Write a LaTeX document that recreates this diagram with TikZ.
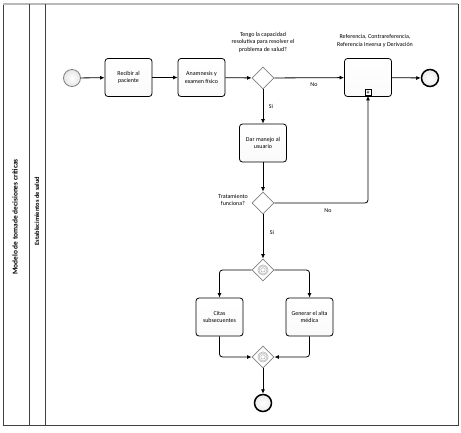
\documentclass[tikz,border=0pt]{standalone}
\usepackage{fontspec}
\setmainfont{Carlito}
\usetikzlibrary{shapes.geometric,arrows.meta}
\newcommand{\smallfont}{\fontsize{6}{7.6}\selectfont}
\tikzstyle{task}=[rectangle,draw,rounded corners=3pt,minimum width=47pt,minimum height=38pt,inner sep=1pt,align=center,font=\smallfont,top color=white,bottom color=gray!4]
\tikzstyle{gate}=[diamond,draw=gray,fill=white,minimum size=22pt,inner sep=0pt]
\tikzstyle{evgate}=[gate,path picture={\draw[gray!70,line width=0.4pt,shift={(path picture bounding box.center)}] (0,0) circle (5.2pt) (0,0) circle (4pt) (90:2.4pt) -- (162:2.4pt) -- (234:2.4pt) -- (306:2.4pt) -- (18:2.4pt) -- cycle;}]
\tikzstyle{startev}=[circle,draw=gray,minimum size=17pt,inner sep=0pt,inner color=white,outer color=gray!20]
\tikzstyle{endev}=[circle,draw,line width=1.5pt,minimum size=17pt,inner sep=0pt,inner color=white,outer color=gray!15]
\tikzstyle{lbl}=[font=\smallfont,align=center,inner sep=0pt]
\tikzstyle{flow}=[-{Latex[length=4.5pt,width=4pt]}]
\tikzstyle{hv}=[rounded corners=3pt,to path={-| (\tikztotarget)}]
\tikzstyle{vh}=[rounded corners=3pt,to path={|- (\tikztotarget)}]

\begin{document}
\begin{tikzpicture}[x=1pt,y=-1pt,line width=0.8pt]
			\useasboundingbox (0,0) rectangle (461,432);
			% % % % % % % % % % % % % % % % % % % % % % % % % % % % % 
			% pool and lane
			\draw[black!75] (3,4) rectangle (458,425);
			\draw[gray!55,line width=1.5pt] (3,4) -- (458,4);
			\draw[black!75] (29,4) -- (29,425);
			\draw[black!75] (45,4) -- (45,425);
			\node [rotate=90,font=\fontsize{7.4}{8}\selectfont\bfseries] (pool) at (15,217) {Modelo de tomade decisiones críticas};
			\node [rotate=90,font=\fontsize{6.4}{8}\selectfont\bfseries] (lane) at (37,211) {Establecimientos de salud};
			% % % % % % % % % % % % % % % % % % % % % % % % % % % % % 
			\node [startev] (s1) at (72,78) {};
			\node [task] (recibir) at (128.5,77.5) {Recibir al\\paciente};
			\node [task] (anam) at (201.5,77.5) {Anamnesis y\\examen físico};
			\node [gate] (g1) at (263,78) {};
			\node [lbl] (q1) at (263,42) {Tengo la capacidad\\resolutiva para resolver el\\problema de salud?};
			\node [task] (sub) at (368,77.5) {};
			\node [draw,fill=white,minimum size=6pt,inner sep=0pt,line width=0.6pt,font=\fontsize{6}{6}\selectfont\bfseries] (plus) at (368,92.5) {+};
			\node [lbl] (q2) at (375,41) {Referencia, Contrareferencia,\\Referencia Inversa y Derivación};
			\node [endev] (e1) at (430,78) {};
			%*********************
			\node [task] (dar) at (263,143) {Dar manejo al\\usuario};
			\node [gate] (g2) at (263,203) {};
			\node [lbl] (q3) at (233,200) {Tratamiento\\funciona?};
			\node [evgate] (g3) at (263,270) {};
			\node [task] (citas) at (219.5,317) {Citas\\subsecuentes};
			\node [task] (alta) at (309.5,317) {Generar el alta\\médica};
			\node [evgate] (g4) at (263,357) {};
			\node [endev] (e2) at (263,403) {};
			%*********************
			\node [lbl] (si1) at (271,106) {Si};
			\node [lbl] (no1) at (314,85) {No};
			\node [lbl] (no2) at (328,211) {No};
			\node [lbl] (si2) at (272,232) {Si};
			\path
			% % % % % % % % % % % % % % % % %
			(s1) edge [flow] (recibir)
			(recibir) edge [flow] (anam)
			(anam) edge [flow] (g1)
			(g1) edge [flow] (sub)
			(sub) edge [flow] (e1)
			(g1) edge [flow] (dar)
			(dar) edge [flow] (g2)
			(g2.east) edge [flow,hv] (plus.south)
			(g2) edge [flow] (g3)
			%**************
			(g3.west) edge [flow,hv] (citas.north)
			(g3.east) edge [flow,hv] (alta.north)
			(citas.south) edge [flow,vh] (g4.west)
			(alta.south) edge [flow,vh] (g4.east)
			(g4) edge [flow] (e2)
			;
\end{tikzpicture}
\end{document}
